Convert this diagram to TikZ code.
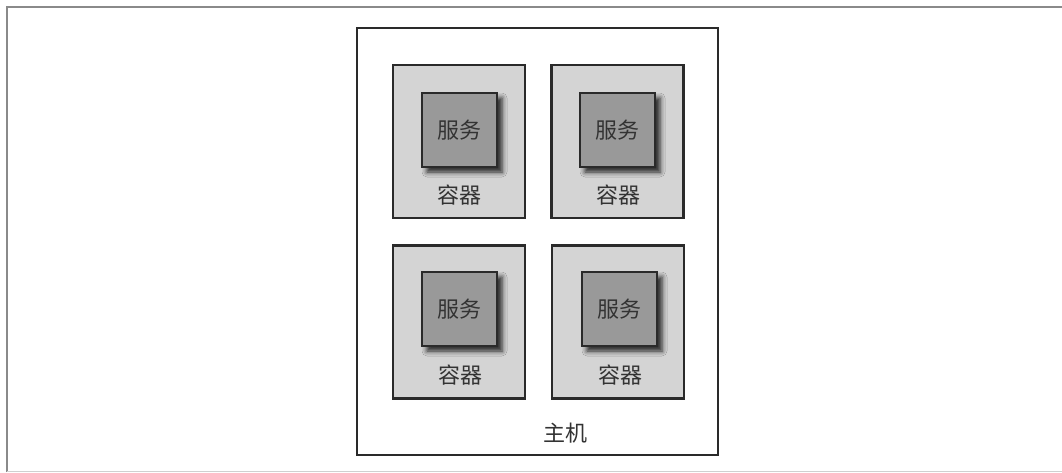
\documentclass[tikz,border=0pt]{standalone}
\usepackage{fontspec}
\newfontfamily\cjk{Noto Sans CJK SC}
\usetikzlibrary{shadows.blur}

\definecolor{framegray}{HTML}{8A8A8A}
\definecolor{boxline}{HTML}{2A2A2A}
\definecolor{ctfill}{HTML}{D4D4D4}
\definecolor{svfill}{HTML}{999999}
\definecolor{txtgray}{HTML}{333333}

\begin{document}
\begin{tikzpicture}[x=1pt, y=-1pt,
  every node/.style={font=\cjk\fontsize{22}{24}\selectfont, text=txtgray},
  host/.style={rectangle, draw=boxline, line width=2.2pt, fill=white,
    minimum width=361pt, minimum height=427pt},
  container/.style={rectangle, draw=boxline, line width=2.4pt, fill=ctfill,
    minimum width=132pt, minimum height=153pt},
  service/.style={rectangle, draw=boxline, line width=2.4pt, fill=svfill,
    minimum width=75pt, minimum height=74pt, inner sep=0pt,
    blur shadow={shadow xshift=5pt, shadow yshift=-5pt, shadow blur radius=5pt, shadow opacity=85}},
  label/.style={inner sep=0pt}]

\useasboundingbox (0,0) rectangle (1062,472);
\draw[framegray, line width=1.2pt] (7,472) -- (7,7) -- (1062,7);
\draw[framegray!40, line width=0.8pt] (7,471) -- (1062,471);

\node[host] (host) at (537.5,241.5) {};
\node[label] (hostlabel) at (565,433) {主机};

\node[container] (ct1) at (459,141.5) {};
\node[container] (ct2) at (617.5,141.5) {};
\node[container] (ct3) at (459,322) {};
\node[container] (ct4) at (618,322) {};

\node[service] (sv1) at (459.5,130) {服务};
\node[service] (sv2) at (617.5,130) {服务};
\node[service] (sv3) at (459.5,309) {服务};
\node[service] (sv4) at (619.5,309) {服务};

\node[label] (lb1) at (459,195) {容器};
\node[label] (lb2) at (618,195) {容器};
\node[label] (lb3) at (460,375) {容器};
\node[label] (lb4) at (620,375) {容器};

\end{tikzpicture}
\end{document}
